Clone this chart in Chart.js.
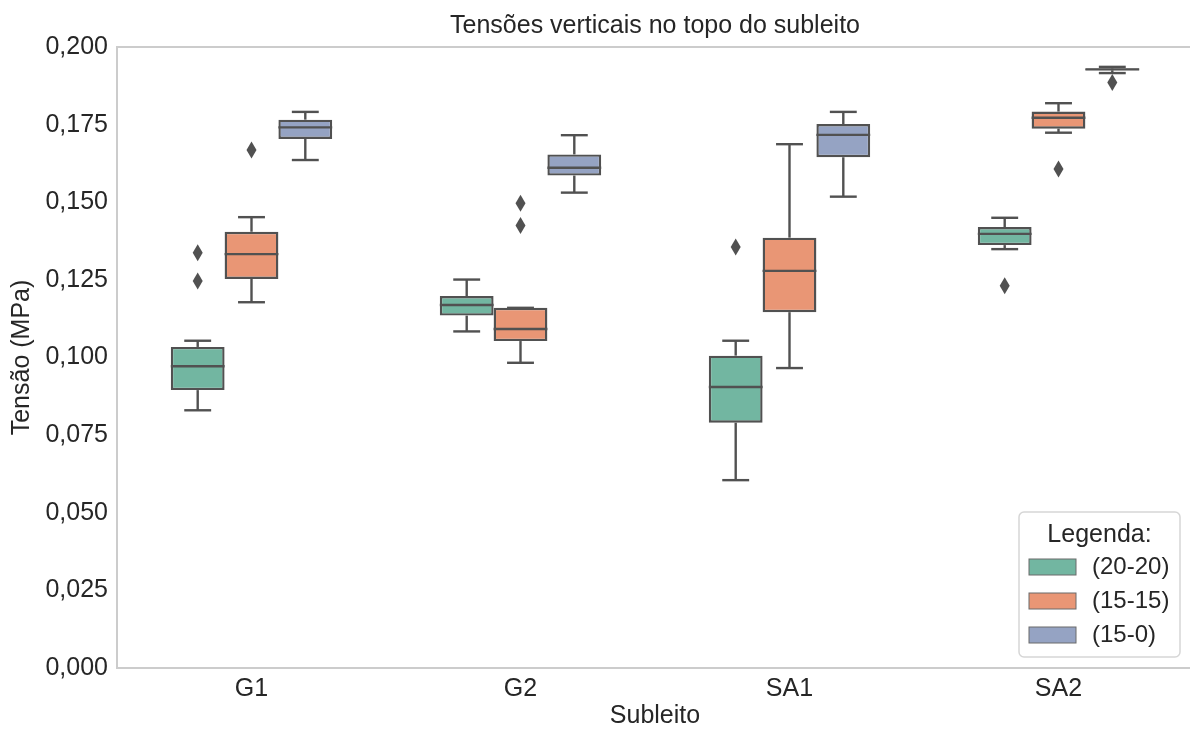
<!DOCTYPE html>
<html>
<head>
<meta charset="utf-8">
<script src="https://cdn.jsdelivr.net/npm/chart.js@4"></script>
<style>
  html, body { margin: 0; padding: 0; background: #fff; overflow: hidden; }
  #wrap { width: 1190px; height: 729px; overflow: hidden; }
</style>
</head>
<body>
<div id="wrap"><canvas id="chart" width="1193" height="729"></canvas></div>
<script>
const categories = ['G1', 'G2', 'SA1', 'SA2'];
const seriesNames = ['(20-20)', '(15-15)', '(15-0)'];
const seriesColors = ['#72b6a1', '#e99675', '#95a3c3'];
const yTicks = [0, 0.025, 0.05, 0.075, 0.1, 0.125, 0.15, 0.175, 0.2];

// [whisker low, q1, median, q3, whisker high] per category
const box2020 = [
    [0.0830, 0.0895, 0.0972, 0.1034, 0.1054],
    [0.1084, 0.1135, 0.1169, 0.1198, 0.1251],
    [0.0605, 0.0790, 0.0905, 0.1006, 0.1054],
    [0.1349, 0.1362, 0.1398, 0.1420, 0.1450]
];
const box1515 = [
    [0.1178, 0.1253, 0.1333, 0.1405, 0.1452],
    [0.0983, 0.1053, 0.1092, 0.1160, 0.1160],
    [0.0966, 0.1146, 0.1279, 0.1386, 0.1687],
    [0.1724, 0.1737, 0.1772, 0.1792, 0.1819]
];
const box150 = [
    [0.1636, 0.1704, 0.1741, 0.1766, 0.1791],
    [0.1531, 0.1586, 0.1611, 0.1654, 0.1716],
    [0.1518, 0.1645, 0.1717, 0.1752, 0.1791],
    [0.1916, 0.1925, 0.1928, 0.1931, 0.1936]
];

// outliers per category
const out2020 = [[0.1337, 0.1246], [], [0.1356], [0.1231]];
const out1515 = [[0.1668], [0.1497, 0.1425], [], [0.1607]];
const out150 = [[], [], [], [0.1886]];

const boxes = [box2020, box1515, box150];
const outliers = [out2020, out1515, out150];

const lineColor = '#515151';
const textColor = '#262626';
const fontFamily = '"Liberation Sans", Arial, sans-serif';

Chart.defaults.color = textColor;
Chart.defaults.font.family = fontFamily;

const boxParts = {
    id: 'boxParts',
    beforeDatasetsDraw(chart) {
        const {ctx, chartArea: a} = chart;
        ctx.save();
        ctx.strokeStyle = '#cccccc';
        ctx.lineWidth = 2;
        ctx.strokeRect(a.left, a.top, a.right - a.left, a.bottom - a.top);
        ctx.restore();
    },
    afterDatasetsDraw(chart) {
        const ctx = chart.ctx;
        const y = chart.scales.y;
        ctx.save();
        ctx.strokeStyle = lineColor;
        ctx.fillStyle = lineColor;
        ctx.lineWidth = 2.4;
        boxes.forEach((stats, i) => {
            const meta = chart.getDatasetMeta(i);
            meta.data.forEach((bar, j) => {
                const s = stats[j];
                const x = bar.x, w = bar.width;
                const line = (x1, y1, x2, y2) => {
                    ctx.beginPath();
                    ctx.moveTo(x1, y1);
                    ctx.lineTo(x2, y2);
                    ctx.stroke();
                };
                // whiskers
                line(x, y.getPixelForValue(s[3]), x, y.getPixelForValue(s[4]));
                line(x, y.getPixelForValue(s[1]), x, y.getPixelForValue(s[0]));
                // caps
                line(x - w / 4, y.getPixelForValue(s[4]), x + w / 4, y.getPixelForValue(s[4]));
                line(x - w / 4, y.getPixelForValue(s[0]), x + w / 4, y.getPixelForValue(s[0]));
                // median
                line(x - w / 2, y.getPixelForValue(s[2]), x + w / 2, y.getPixelForValue(s[2]));
                // outliers
                outliers[i][j].forEach(v => {
                    const py = y.getPixelForValue(v);
                    ctx.beginPath();
                    ctx.moveTo(x, py - 8.5);
                    ctx.lineTo(x + 5, py);
                    ctx.lineTo(x, py + 8.5);
                    ctx.lineTo(x - 5, py);
                    ctx.closePath();
                    ctx.fill();
                });
            });
        });
        ctx.restore();
    },
    afterDraw(chart) {
        const ctx = chart.ctx;
        const bx = 1019, by = 512, bw = 161, bh = 145;
        ctx.save();
        ctx.fillStyle = 'rgba(255,255,255,0.85)';
        ctx.strokeStyle = '#d6d6d6';
        ctx.lineWidth = 1.5;
        ctx.beginPath();
        ctx.roundRect(bx, by, bw, bh, 5);
        ctx.fill();
        ctx.stroke();

        ctx.fillStyle = textColor;
        ctx.font = '25px ' + fontFamily;
        ctx.textAlign = 'center';
        ctx.textBaseline = 'middle';
        ctx.fillText('Legenda:', bx + bw / 2, by + 23);

        ctx.font = '24px ' + fontFamily;
        ctx.textAlign = 'left';
        chart.data.datasets.forEach((ds, i) => {
            const cy = by + 55 + i * 34;
            ctx.fillStyle = ds.backgroundColor;
            ctx.fillRect(bx + 10, cy - 8, 47, 16);
            ctx.strokeStyle = '#6a6a6a';
            ctx.lineWidth = 1;
            ctx.strokeRect(bx + 10, cy - 8, 47, 16);
            ctx.fillStyle = textColor;
            ctx.fillText(ds.label, bx + 73, cy);
        });
        ctx.restore();
    }
};

const datasets = boxes.map((stats, i) => ({
    label: seriesNames[i],
    data: stats.map(s => [s[1], s[3]]),
    backgroundColor: seriesColors[i],
    borderColor: lineColor,
    borderWidth: 2.4,
    borderSkipped: false,
    categoryPercentage: 0.6,
    barPercentage: 1.0
}));

new Chart(document.getElementById('chart'), {
    type: 'bar',
    data: { labels: categories, datasets: datasets },
    options: {
        responsive: false,
        animation: false,
        layout: { padding: 0 },
        plugins: {
            legend: { display: false },
            tooltip: { enabled: false },
            title: {
                display: true,
                text: 'Tensões verticais no topo do subleito',
                fullSize: false,
                color: textColor,
                font: { size: 25, weight: 'normal', lineHeight: 1.2 },
                padding: { top: 11, bottom: 6 }
            }
        },
        scales: {
            x: {
                grid: { display: false, drawTicks: false },
                border: { display: false },
                ticks: { padding: 6, font: { size: 25 }, color: textColor },
                title: {
                    display: true,
                    text: 'Subleito',
                    color: textColor,
                    font: { size: 25, lineHeight: 1 },
                    padding: { top: 0, bottom: 0 }
                },
                afterFit(scale) { scale.height = 61; }
            },
            y: {
                min: 0,
                max: 0.2,
                grid: { display: false, drawTicks: false },
                border: { display: false },
                afterBuildTicks(scale) { scale.ticks = yTicks.map(v => ({ value: v })); },
                ticks: {
                    padding: 9,
                    font: { size: 25 },
                    color: textColor,
                    callback: v => Number(v).toFixed(3).replace('.', ',')
                },
                title: {
                    display: true,
                    text: 'Tensão (MPa)',
                    color: textColor,
                    font: { size: 25, lineHeight: 1 },
                    padding: { top: 10, bottom: 0 }
                },
                afterFit(scale) { scale.width = 117; }
            }
        }
    },
    plugins: [boxParts]
});
</script>
</body>
</html>
